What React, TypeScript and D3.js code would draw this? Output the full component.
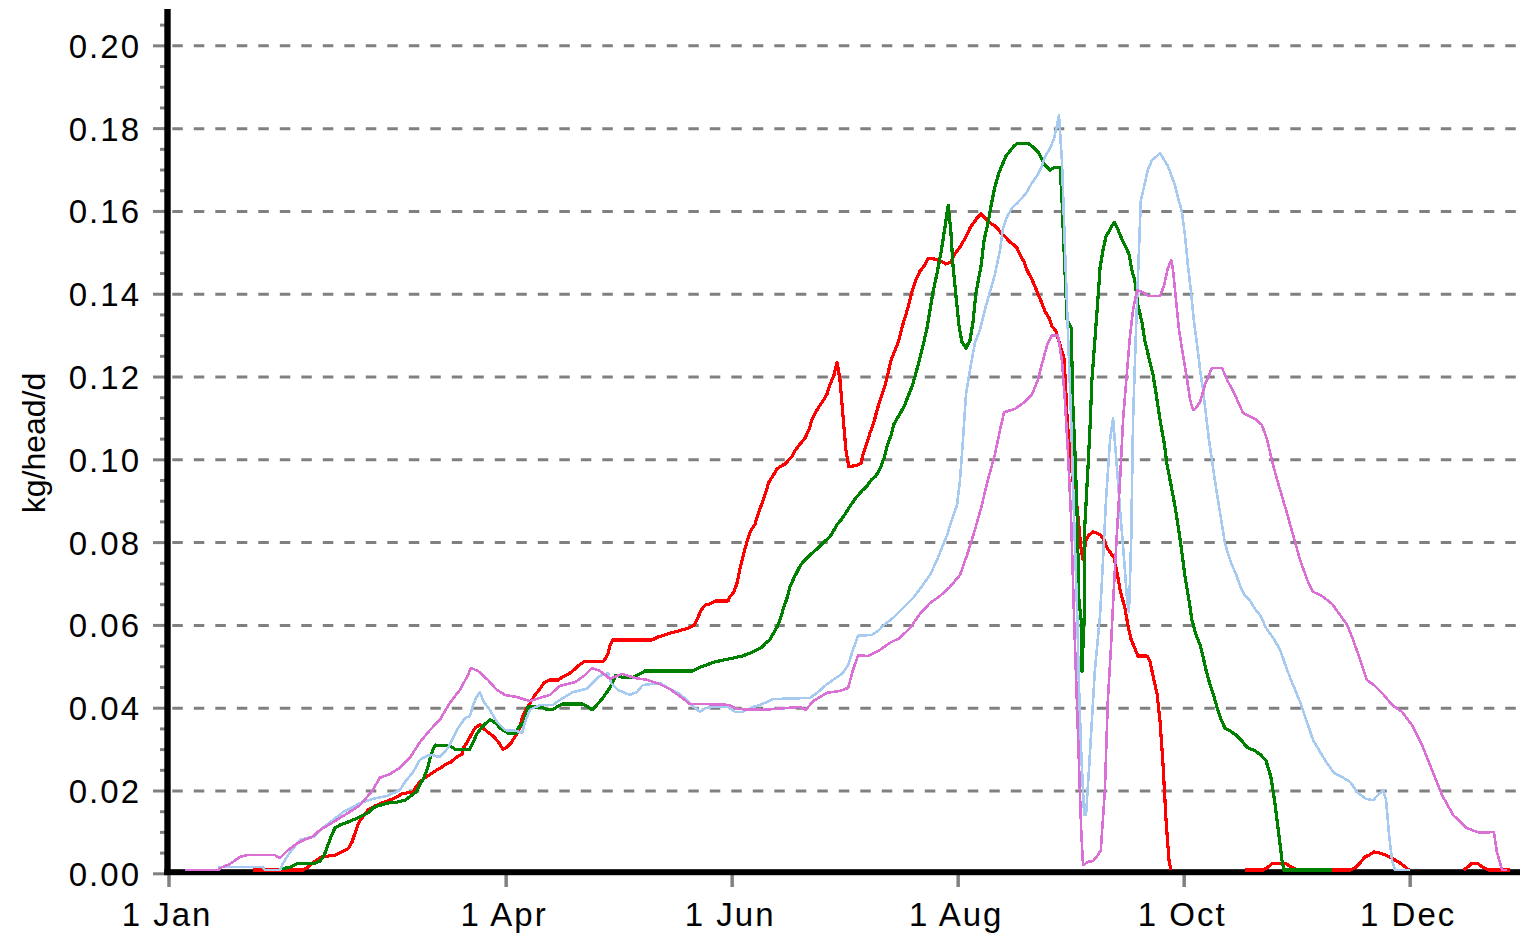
import React from 'react';
import * as d3 from 'd3';

type Pt = [number, number | null];

const monthTickDays = [0, 91, 152, 213, 274, 335];
const monthTickLabels = ['1 Jan', '1 Apr', '1 Jun', '1 Aug', '1 Oct', '1 Dec'];
const yTickValues = [0, 0.02, 0.04, 0.06, 0.08, 0.1, 0.12, 0.14, 0.16, 0.18, 0.2];
const yTickLabels = ['0.00', '0.02', '0.04', '0.06', '0.08', '0.10', '0.12', '0.14', '0.16', '0.18', '0.20'];
const yAxisTitle = 'kg/head/d';

const redSeries: Pt[] = [
  [22.7,0.0009],[36.2,0.0009],[37.5,0.0016],[39.1,0.0029],[41.3,0.0041],[44.8,0.0045],[46.7,0.0053],[48.3,0.006],[49.4,0.0077],[50.5,0.0106],[51.3,0.0125],[52.4,0.0138],[53.7,0.0154],[55.6,0.0164],[56.9,0.0169],[59.6,0.0178],[61.5,0.0186],[62.9,0.0193],[65.9,0.0198],[66.7,0.021],[67.7,0.0222],[69.4,0.0234],[71.0,0.0243],[72.3,0.0251],[73.7,0.0258],[74.8,0.0265],[76.1,0.027],[77.7,0.0282],[79.1,0.0289],[79.6,0.0306],[80.7,0.0321],[81.5,0.0335],[82.6,0.0352],[83.9,0.036],[85.0,0.035],[86.4,0.034],[87.7,0.0331],[89.1,0.0316],[90.1,0.0301],[91.2,0.0306],[92.3,0.0316],[93.4,0.0331],[94.7,0.0352],[95.3,0.0376],[96.1,0.0393],[97.2,0.0408],[98.8,0.0432],[99.9,0.0444],[101.2,0.0461],[102.8,0.0468],[105.0,0.0468],[106.1,0.0475],[108.0,0.0483],[109.6,0.0495],[110.7,0.0504],[112.0,0.0512],[117.1,0.0512],[117.9,0.0521],[118.5,0.0533],[119.0,0.055],[119.8,0.0565],[130.4,0.0565],[132.0,0.0572],[134.7,0.058],[137.7,0.0587],[140.4,0.0594],[141.7,0.0601],[142.5,0.0613],[143.6,0.0637],[144.7,0.0649],[146.0,0.0652],[147.6,0.0659],[150.9,0.0659],[151.4,0.0669],[152.5,0.0681],[153.3,0.0702],[154.1,0.0736],[155.2,0.0777],[156.3,0.0811],[157.1,0.083],[158.2,0.0845],[158.9,0.0867],[160.1,0.0896],[161.1,0.0922],[161.9,0.0946],[163.0,0.0961],[164.1,0.0978],[165.2,0.0985],[166.3,0.099],[167.3,0.1],[168.1,0.1007],[168.9,0.1021],[170.3,0.1038],[171.7,0.1053],[172.7,0.1072],[173.5,0.1096],[174.4,0.1113],[175.4,0.1128],[176.5,0.1142],[177.6,0.1159],[178.4,0.1181],[179.5,0.1205],[180.3,0.1236],[181.1,0.1193],[181.9,0.1108],[182.7,0.1024],[183.5,0.0983],[185.7,0.0987],[186.8,0.0992],[187.3,0.1012],[188.4,0.1041],[189.2,0.1065],[190.3,0.1092],[191.1,0.112],[192.2,0.1152],[193.3,0.1181],[194.1,0.121],[194.9,0.1241],[195.9,0.1263],[197.0,0.1289],[197.8,0.1319],[198.7,0.1345],[199.7,0.1376],[200.5,0.1405],[201.6,0.1434],[202.7,0.1456],[203.8,0.1468],[204.9,0.1487],[206.5,0.1485],[208.4,0.148],[209.7,0.1473],[211.1,0.1478],[212.1,0.1497],[213.5,0.1514],[214.6,0.1531],[215.4,0.1545],[216.2,0.156],[217.3,0.1574],[218.1,0.1584],[219.2,0.1594],[220.2,0.1584],[221.3,0.1574],[222.9,0.1565],[224.0,0.1555],[224.8,0.1545],[225.9,0.1538],[226.7,0.1528],[228.1,0.1519],[228.9,0.1512],[229.7,0.1495],[230.8,0.1478],[231.6,0.1458],[232.7,0.1439],[233.7,0.142],[234.5,0.1401],[235.6,0.1379],[236.4,0.1359],[237.5,0.1343],[238.3,0.1323],[239.4,0.1311],[240.5,0.1277],[241.6,0.1244],[242.1,0.1157],[242.4,0.1101],[243.2,0.1009],[244.3,0.0927],[245.1,0.0886],[246.2,0.0782],[246.7,0.0758],[247.5,0.0806],[248.3,0.0818],[249.4,0.0826],[250.5,0.0823],[251.5,0.0818],[252.4,0.0806],[253.2,0.0787],[254.0,0.0777],[255.1,0.0763],[255.9,0.0727],[256.7,0.0686],[258.0,0.0642],[258.8,0.0601],[259.7,0.0565],[260.7,0.0545],[261.5,0.0526],[264.0,0.0526],[264.8,0.0512],[265.6,0.0478],[266.7,0.0434],[267.5,0.0367],[268.3,0.0263],[269.1,0.013],[269.9,0.0033],[270.4,0.0009],[270.5,null],
  [290.4,0.0009],[295.3,0.0009],[296.6,0.0016],[297.7,0.0024],[301.5,0.0024],[303.1,0.0016],[304.7,0.0009],[304.8,null],
  [313.9,0.0009],[318.8,0.0009],[320.4,0.0016],[321.7,0.0029],[322.8,0.0041],[323.9,0.0045],[325.2,0.0053],[326.9,0.005],[328.5,0.0045],[329.9,0.0038],[331.8,0.0029],[333.3,0.0019],[334.7,0.0009],[334.8,null],
  [349.4,0.0009],[350.5,0.0016],[351.5,0.0024],[353.4,0.0024],[354.5,0.0016],[356.1,0.0009],[362.0,0.0009]
];

const greenSeries: Pt[] = [
  [30.5,0.0012],[32.7,0.0016],[34.5,0.0024],[38.9,0.0024],[40.8,0.0031],[41.8,0.0043],[42.6,0.0062],[43.7,0.0089],[44.8,0.0111],[46.2,0.0118],[48.3,0.0125],[50.2,0.0132],[52.1,0.014],[53.7,0.0147],[55.1,0.0159],[56.4,0.0164],[59.1,0.0171],[61.5,0.0173],[63.7,0.0178],[65.0,0.0186],[66.7,0.0198],[67.7,0.0215],[68.8,0.0232],[69.9,0.0258],[70.7,0.0287],[71.8,0.0311],[75.8,0.0309],[77.2,0.0301],[81.2,0.0301],[82.1,0.0318],[83.1,0.0338],[84.5,0.0355],[86.6,0.0372],[88.3,0.0364],[89.3,0.0352],[91.5,0.034],[93.7,0.034],[94.2,0.0352],[95.8,0.0367],[96.9,0.0403],[100.7,0.0403],[102.0,0.0396],[103.4,0.0396],[104.7,0.0403],[106.1,0.041],[111.7,0.041],[113.1,0.0403],[114.2,0.0396],[115.5,0.0408],[117.1,0.0425],[118.2,0.0439],[119.3,0.0454],[120.6,0.048],[122.3,0.0475],[125.2,0.0475],[127.1,0.0483],[128.5,0.049],[141.4,0.049],[142.8,0.0497],[144.9,0.0504],[147.4,0.0512],[151.1,0.0519],[154.7,0.0526],[156.8,0.0533],[158.7,0.0541],[160.1,0.0548],[161.1,0.0558],[162.2,0.0565],[163.0,0.0579],[164.1,0.0596],[164.9,0.0613],[165.7,0.0637],[166.8,0.0666],[167.6,0.0693],[168.7,0.0715],[169.5,0.0729],[170.3,0.0743],[171.4,0.0756],[173.0,0.077],[174.9,0.0785],[176.5,0.0799],[178.4,0.0814],[179.2,0.0826],[180.3,0.0843],[181.4,0.0855],[182.5,0.0869],[183.8,0.0888],[185.4,0.0908],[187.0,0.0925],[188.4,0.0937],[189.5,0.0951],[190.8,0.0961],[191.9,0.0978],[193.0,0.1004],[193.8,0.1033],[194.9,0.106],[195.7,0.1087],[196.8,0.1104],[197.6,0.1116],[198.6,0.1133],[199.5,0.1154],[200.5,0.1176],[201.3,0.12],[202.4,0.1236],[203.5,0.1275],[204.6,0.1319],[205.4,0.1362],[206.2,0.1405],[207.3,0.1451],[208.4,0.1502],[209.4,0.156],[210.3,0.1615],[211.0,0.1555],[211.6,0.147],[212.4,0.1396],[213.2,0.1326],[214.0,0.1285],[215.1,0.127],[216.2,0.1289],[217.0,0.1333],[217.8,0.1403],[219.2,0.147],[220.0,0.1531],[221.1,0.1574],[221.9,0.1615],[222.9,0.1659],[224.0,0.1693],[225.1,0.1717],[225.9,0.1734],[227.0,0.1746],[228.1,0.1758],[229.1,0.1765],[231.8,0.1765],[232.9,0.1758],[234.0,0.1748],[234.8,0.1741],[235.6,0.1727],[236.4,0.1712],[237.8,0.17],[239.1,0.1707],[240.5,0.1707],[241.0,0.1632],[241.6,0.1502],[242.4,0.1338],[243.5,0.1318],[244.0,0.112],[244.5,0.1024],[245.1,0.0867],[245.6,0.0661],[246.2,0.0613],[246.4,0.0488],[247.0,0.0613],[247.2,0.0843],[248.0,0.0975],[248.6,0.1082],[249.1,0.1193],[249.9,0.1289],[250.7,0.1386],[251.3,0.1464],[252.1,0.1507],[252.9,0.1539],[254.0,0.1557],[255.1,0.1574],[256.1,0.1557],[256.9,0.1539],[258.0,0.1519],[259.1,0.1497],[259.9,0.1458],[260.7,0.1432],[261.5,0.1374],[262.6,0.1333],[263.4,0.1287],[264.5,0.1246],[265.6,0.1205],[266.4,0.1161],[267.5,0.1096],[268.6,0.1041],[269.4,0.0987],[270.5,0.0937],[271.6,0.0884],[272.6,0.0826],[273.4,0.0775],[274.2,0.0719],[275.3,0.0661],[276.1,0.0613],[277.2,0.0577],[278.3,0.0553],[279.1,0.0524],[279.9,0.0492],[281.0,0.0456],[282.1,0.0427],[282.9,0.04],[284.0,0.0372],[285.0,0.0352],[286.4,0.0345],[288.0,0.0335],[289.6,0.0321],[290.9,0.0306],[293.1,0.0297],[294.7,0.0287],[296.1,0.0273],[297.4,0.0234],[298.5,0.0171],[299.6,0.0091],[300.4,0.0033],[300.9,0.0009],[313.9,0.0009]
];

const blueSeries: Pt[] = [
  [13.2,0.0016],[25.4,0.0016],[25.9,0.0009],[30.0,0.0009],[30.8,0.0026],[32.1,0.0045],[35.4,0.0082],[39.4,0.0091],[40.8,0.0106],[44.3,0.013],[47.0,0.0149],[51.6,0.0171],[55.1,0.0181],[58.8,0.0188],[62.3,0.0202],[63.7,0.0222],[65.9,0.0246],[67.7,0.0275],[69.6,0.0285],[71.0,0.0287],[73.1,0.0282],[75.3,0.0304],[76.7,0.0328],[78.0,0.0352],[79.9,0.0376],[81.2,0.0381],[82.1,0.0408],[82.9,0.0425],[83.9,0.0439],[85.0,0.0415],[86.6,0.0396],[88.5,0.0367],[90.7,0.0347],[93.9,0.0345],[95.3,0.034],[96.1,0.0367],[97.4,0.0396],[100.1,0.0408],[103.6,0.0408],[105.5,0.042],[109.0,0.0439],[112.8,0.0447],[114.4,0.0461],[116.3,0.0478],[118.5,0.0485],[119.3,0.0461],[121.2,0.0444],[124.4,0.0432],[126.3,0.0439],[127.9,0.0456],[132.5,0.0461],[134.7,0.0449],[137.4,0.0437],[139.5,0.0422],[141.4,0.0405],[143.3,0.0391],[144.7,0.04],[146.6,0.0403],[150.9,0.0403],[152.8,0.0391],[154.7,0.0391],[157.6,0.0403],[159.5,0.0408],[161.4,0.0415],[163.0,0.0422],[173.0,0.0425],[174.9,0.0437],[177.6,0.0458],[180.3,0.0475],[181.9,0.0485],[183.3,0.0504],[184.6,0.0541],[186.0,0.0575],[189.7,0.0577],[191.4,0.0587],[192.7,0.0599],[195.4,0.0618],[198.1,0.0642],[200.8,0.0666],[203.5,0.0698],[205.4,0.0722],[207.3,0.0758],[208.6,0.0787],[210.0,0.0818],[211.3,0.0855],[212.7,0.0891],[213.5,0.0951],[214.3,0.1048],[215.1,0.1157],[216.2,0.1217],[217.5,0.1282],[218.9,0.1314],[220.2,0.1362],[221.6,0.1406],[222.9,0.1447],[224.3,0.1507],[225.1,0.156],[226.2,0.1587],[227.5,0.1608],[228.9,0.162],[230.2,0.1632],[231.6,0.1647],[232.9,0.1669],[234.3,0.1686],[235.4,0.1705],[236.4,0.1731],[237.8,0.1753],[238.9,0.1777],[239.7,0.1809],[240.2,0.1833],[241.0,0.1724],[241.8,0.1519],[242.6,0.1314],[243.5,0.1096],[244.3,0.0855],[245.1,0.0637],[245.6,0.0456],[246.2,0.0295],[247.0,0.0142],[247.5,0.0142],[248.3,0.0251],[249.1,0.0372],[249.9,0.0492],[251.3,0.0625],[252.1,0.0758],[252.9,0.0903],[254.0,0.1048],[254.8,0.1101],[255.9,0.0976],[256.7,0.0879],[257.8,0.0758],[258.6,0.0661],[259.1,0.0632],[259.7,0.0806],[260.2,0.1096],[261.0,0.1314],[261.8,0.1507],[262.3,0.1627],[263.1,0.1657],[264.2,0.17],[265.3,0.1724],[266.7,0.1734],[267.5,0.1741],[268.6,0.1724],[269.6,0.171],[270.5,0.1688],[271.5,0.1664],[272.3,0.1635],[273.4,0.1599],[274.2,0.1543],[275.0,0.147],[275.8,0.141],[276.6,0.1338],[277.5,0.1277],[278.3,0.1217],[279.1,0.1169],[279.9,0.1108],[280.7,0.1048],[281.8,0.098],[282.9,0.0915],[284.0,0.0855],[285.0,0.0799],[285.8,0.0775],[286.9,0.0746],[288.0,0.0724],[289.1,0.0695],[290.1,0.0676],[291.8,0.0659],[293.1,0.064],[294.5,0.0625],[296.1,0.0594],[298.0,0.057],[299.9,0.0541],[301.8,0.0492],[303.4,0.0456],[305.3,0.0415],[307.2,0.0365],[308.8,0.0323],[310.7,0.0294],[312.5,0.0268],[314.4,0.0244],[316.6,0.0234],[318.8,0.0222],[320.9,0.0195],[323.1,0.0181],[325.0,0.0178],[326.3,0.019],[327.7,0.0202],[328.5,0.0178],[329.3,0.0094],[330.1,0.0033],[330.9,0.0009],[334.9,0.0009]
];

const pinkSeries: Pt[] = [
  [4.3,0.0009],[13.2,0.0009],[14.3,0.0016],[16.5,0.0024],[19.2,0.0041],[21.1,0.0045],[28.6,0.0045],[30.0,0.0038],[31.8,0.0055],[34.0,0.007],[36.4,0.0082],[38.6,0.0089],[40.8,0.0106],[44.3,0.0125],[48.0,0.0145],[51.6,0.0166],[55.0,0.0202],[56.9,0.0232],[59.6,0.0241],[62.3,0.0256],[65.0,0.028],[67.7,0.0318],[70.4,0.0347],[73.1,0.0372],[75.8,0.0413],[78.5,0.0444],[80.7,0.048],[81.5,0.0497],[83.4,0.049],[86.1,0.0468],[88.5,0.0444],[90.7,0.0432],[93.9,0.0427],[97.4,0.0417],[100.1,0.0425],[102.8,0.0432],[105.5,0.0454],[109.6,0.0463],[112.3,0.048],[114.2,0.0497],[116.3,0.049],[119.0,0.0471],[122.3,0.0483],[125.8,0.0473],[129.3,0.0468],[132.5,0.0458],[135.2,0.0446],[137.9,0.0429],[140.6,0.041],[144.7,0.041],[150.9,0.0408],[153.6,0.0398],[160.3,0.0396],[170.3,0.0403],[171.9,0.0396],[173.8,0.0417],[177.6,0.0437],[181.1,0.0442],[183.3,0.0449],[184.6,0.0492],[186.0,0.0528],[188.7,0.0526],[191.9,0.0541],[194.6,0.0558],[197.3,0.057],[200.0,0.0594],[202.7,0.0628],[205.4,0.0654],[208.1,0.0671],[210.8,0.0693],[213.5,0.0722],[215.4,0.077],[217.5,0.083],[219.4,0.0891],[221.0,0.0951],[222.9,0.1012],[224.3,0.1072],[225.4,0.1115],[228.3,0.1123],[231.0,0.114],[232.9,0.1157],[234.5,0.1193],[235.9,0.1241],[237.2,0.1282],[238.3,0.1301],[239.9,0.1301],[241.0,0.1241],[241.8,0.1145],[242.6,0.1024],[243.5,0.0855],[244.3,0.0613],[245.4,0.0323],[246.2,0.0106],[246.7,0.0021],[248.0,0.0029],[249.4,0.0031],[250.5,0.0043],[251.5,0.0057],[252.6,0.0202],[253.4,0.042],[254.2,0.0541],[255.0,0.0686],[255.9,0.083],[256.7,0.0951],[257.5,0.1096],[258.6,0.1217],[259.4,0.1301],[260.2,0.1362],[261.3,0.141],[262.9,0.1405],[264.2,0.1396],[267.5,0.1396],[268.6,0.1422],[269.6,0.1463],[270.5,0.1483],[271.0,0.1458],[271.8,0.1386],[272.6,0.1314],[273.7,0.1253],[274.8,0.1193],[275.6,0.1145],[276.4,0.112],[277.2,0.1125],[278.3,0.114],[279.6,0.1181],[281.5,0.1222],[284.2,0.1222],[285.6,0.1193],[287.7,0.1157],[289.9,0.1113],[293.1,0.1099],[295.0,0.1084],[296.4,0.1048],[298.0,0.0987],[299.9,0.0927],[301.5,0.0879],[303.4,0.0818],[305.3,0.0758],[307.2,0.071],[308.8,0.0681],[311.2,0.0671],[313.9,0.0652],[316.1,0.0625],[318.0,0.0601],[319.6,0.0565],[321.5,0.0517],[323.3,0.0468],[325.5,0.0454],[327.9,0.0432],[330.1,0.0408],[332.8,0.0391],[335.5,0.0359],[338.2,0.0311],[340.9,0.0251],[343.6,0.019],[346.6,0.0142],[350.1,0.0111],[353.8,0.0099],[357.6,0.0101],[358.4,0.0053],[359.8,0.0009],[361.2,0.0009]
];

const seriesList = [
  { name: 'red', data: redSeries, color: '#ff0000', width: 3.2 },
  { name: 'green', data: greenSeries, color: '#008000', width: 3.2 },
  { name: 'blue', data: blueSeries, color: '#a6caf0', width: 2.6 },
  { name: 'pink', data: pinkSeries, color: '#da70d6', width: 2.6 },
];

const FONT = '"Liberation Sans", Arial, sans-serif';

export default function App() {
  const W = 1520;
  const H = 933;
  const x = d3.scaleLinear().domain([0, 366]).range([169, 169 + 366 * 3.705]);
  const y = d3.scaleLinear().domain([0, 0.2089]).range([873.8, 9]);

  const line = d3
    .line<Pt>()
    .defined((d) => d[1] !== null)
    .x((d) => x(d[0]))
    .y((d) => y(d[1] as number));

  const minorTicks = d3.range(0, 42).filter((i) => i % 4 !== 0).map((i) => i * 0.005);

  return (
    <svg
      width={W}
      height={H}
      style={{ position: 'absolute', left: 0, top: 0, background: '#fff' }}
    >
      <rect x={0} y={0} width={W} height={H} fill="#fff" />
      {yTickValues.slice(1).map((v) => (
        <line
          key={'g' + v}
          x1={172.3}
          x2={W}
          y1={y(v)}
          y2={y(v)}
          stroke="#808080"
          strokeWidth={3}
          strokeDasharray="10.5 11"
        />
      ))}
      {yTickValues.map((v) => (
        <line key={'t' + v} x1={153} x2={167} y1={y(v)} y2={y(v)} stroke="#808080" strokeWidth={3} />
      ))}
      {minorTicks.map((v) => (
        <line key={'m' + v} x1={160} x2={167} y1={y(v)} y2={y(v)} stroke="#808080" strokeWidth={3} />
      ))}
      {monthTickDays.map((d) => (
        <line key={'xt' + d} x1={x(d)} x2={x(d)} y1={874} y2={887} stroke="#808080" strokeWidth={3.5} />
      ))}
      <rect x={164.3} y={9} width={6.4} height={866} fill="#000" />
      <rect x={164.3} y={869.2} width={W - 164.3} height={6} fill="#000" />
      {yTickValues.map((v, i) => (
        <text
          key={'yl' + v}
          x={141}
          y={y(v) + 12}
          textAnchor="end"
          fontFamily={FONT}
          fontSize={33}
          letterSpacing={2}
          fill="#000"
        >
          {yTickLabels[i]}
        </text>
      ))}
      {monthTickDays.map((d, i) => (
        <text
          key={'xl' + d}
          x={x(d) - 2}
          y={926}
          textAnchor="middle"
          fontFamily={FONT}
          fontSize={33}
          letterSpacing={2}
          fill="#000"
        >
          {monthTickLabels[i]}
        </text>
      ))}
      <text
        transform="translate(45,443) rotate(-90)"
        textAnchor="middle"
        fontFamily={FONT}
        fontSize={32}
        fill="#000"
      >
        {yAxisTitle}
      </text>
      {seriesList.map((s) => (
        <path
          key={s.name}
          d={line(s.data) || ''}
          fill="none"
          stroke={s.color}
          strokeWidth={s.width}
          strokeLinejoin="round"
          shapeRendering="crispEdges"
        />
      ))}
    </svg>
  );
}
